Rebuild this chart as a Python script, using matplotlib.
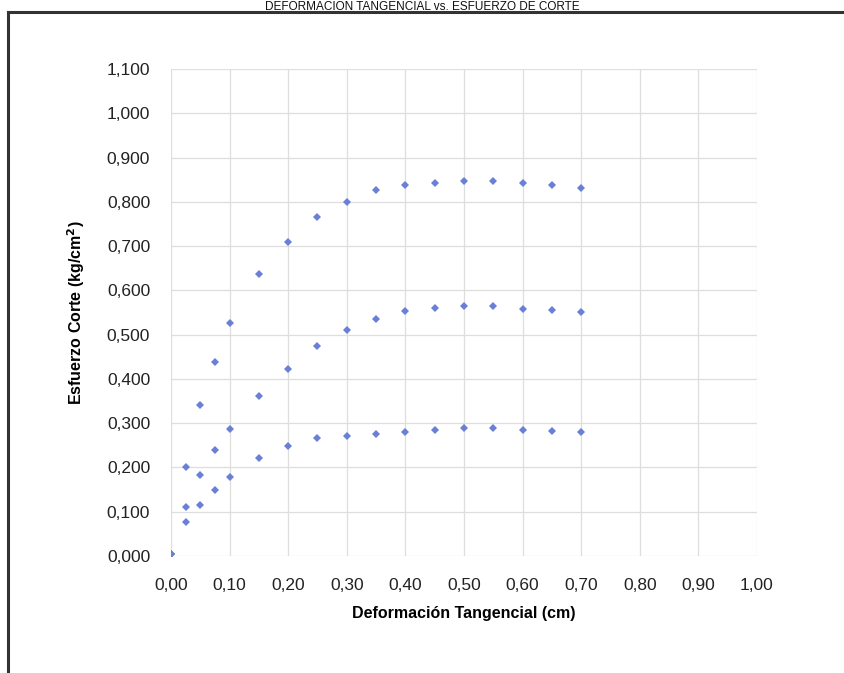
import matplotlib
matplotlib.use("Agg")
import matplotlib.pyplot as plt
from matplotlib.lines import Line2D
from matplotlib.ticker import FuncFormatter, MultipleLocator

plt.rcParams['font.family'] = ['Liberation Sans', 'DejaVu Sans']

# Deformacion tangencial (cm)
deformacion = [0.0, 0.025, 0.05, 0.075, 0.10, 0.15, 0.20, 0.25, 0.30,
               0.35, 0.40, 0.45, 0.50, 0.55, 0.60, 0.65, 0.70]

# Esfuerzo de corte (kg/cm2) for the three specimens
esfuerzo_1 = [0.005, 0.077, 0.116, 0.148, 0.178, 0.221, 0.248, 0.266, 0.271,
              0.275, 0.280, 0.284, 0.290, 0.289, 0.285, 0.282, 0.279]
esfuerzo_2 = [0.005, 0.111, 0.182, 0.239, 0.286, 0.361, 0.422, 0.475, 0.510,
              0.536, 0.554, 0.560, 0.565, 0.564, 0.559, 0.556, 0.552]
esfuerzo_3 = [0.005, 0.200, 0.342, 0.439, 0.527, 0.637, 0.709, 0.765, 0.800,
              0.827, 0.839, 0.842, 0.847, 0.846, 0.842, 0.839, 0.832]

titulo = "DEFORMACIÓN TANGENCIAL vs. ESFUERZO DE CORTE"

fig = plt.figure(figsize=(8.45, 6.73), dpi=100)
ax = fig.add_axes([171/845, 1-556/673, (757-171)/845, (556-69)/673])

for serie in [esfuerzo_1, esfuerzo_2, esfuerzo_3]:
    ax.plot(deformacion, serie, linestyle='none', marker='D', markersize=3.8,
            color='#6a7fd6', markeredgewidth=0, zorder=3)

ax.set_xlim(0, 1.0)
ax.set_ylim(0, 1.1)
ax.xaxis.set_major_locator(MultipleLocator(0.1))
ax.yaxis.set_major_locator(MultipleLocator(0.1))
ax.xaxis.set_major_formatter(FuncFormatter(lambda v, p: f"{v:.2f}".replace('.', ',')))
ax.yaxis.set_major_formatter(FuncFormatter(lambda v, p: f"{v:.3f}".replace('.', ',')))
ax.grid(True, color='#dedede', linewidth=0.9)
ax.set_axisbelow(True)
for s in ax.spines.values():
    s.set_visible(False)
ax.tick_params(length=0, labelsize=12.5, colors='#222222')
ax.tick_params(axis='y', pad=15)
ax.tick_params(axis='x', pad=16)

ax.set_xlabel("Deformación Tangencial (cm)", fontsize=11.5, fontweight='bold', labelpad=9)
ax.set_ylabel("Esfuerzo Corte (kg/cm$^\\mathbf{2}$)", fontsize=11.5, fontweight='bold', labelpad=14)

# outer chart border (cut off at right and bottom)
y_top = 1 - 12/673
x_left = 8/845
fig.add_artist(Line2D([x_left, 1.0], [y_top, y_top], color='#333333', linewidth=2.2))
fig.add_artist(Line2D([x_left, x_left], [0.0, y_top], color='#333333', linewidth=2.2))

# title squeezed into the strip above the border
fig.text(0.5, 1 - 1/673, titulo, ha='center', va='top', fontsize=8.5, color='#111111')

fig.savefig("out.png", dpi=100)
